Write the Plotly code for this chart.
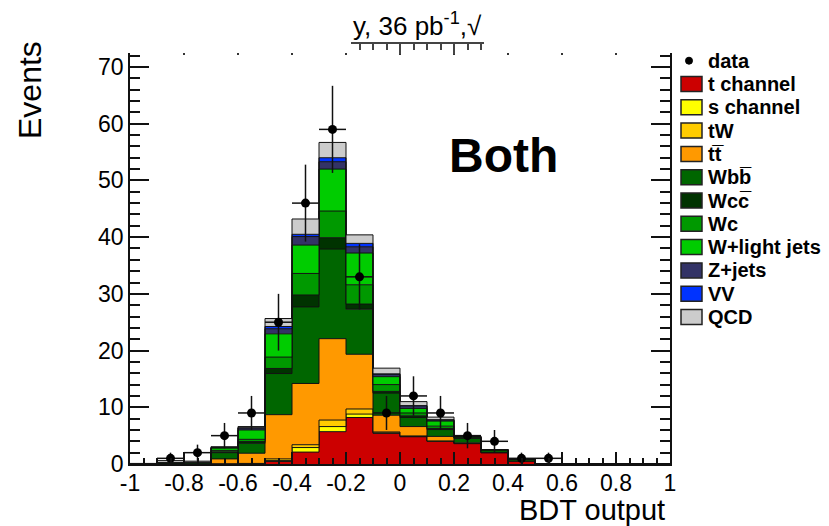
import numpy as np
import plotly.graph_objects as go

# ---------------- data ----------------
bin_edges = [round(-1 + 0.1 * i, 1) for i in range(21)]
bin_centers = [round(-0.95 + 0.1 * i, 2) for i in range(20)]

data_counts = [0, 1, 2, 5, 9, 25, 46, 59, 33, 9, 12, 9, 5, 4, 1, 1, 0, 0, 0, 0]

t_channel = [0, 0, 0, 0.05, 0.05, 0.45, 2.1, 5.7, 8.2, 5.4, 4.8, 4.0, 3.6, 2.0, 0.5, 0, 0, 0, 0, 0]
s_channel = [0, 0, 0, 0, 0, 0.15, 0.8, 0.9, 0.6, 0.1, 0.05, 0.02, 0, 0, 0, 0, 0, 0, 0, 0]
tW = [0, 0, 0, 0, 0.05, 0.3, 0.5, 1.15, 0.9, 0.15, 0.1, 0.05, 0.03, 0, 0, 0, 0, 0, 0, 0]
ttbar = [0, 0, 0, 0.85, 1.8, 7.8, 10.8, 14.35, 9.65, 2.95, 1.65, 0.8, 0.1, 0.05, 0.02, 0, 0, 0, 0, 0]
Wbb = [0, 0.1, 0.1, 1.1, 1.75, 7.25, 13.5, 15.8, 7.95, 3.9, 1.6, 1.2, 0.8, 0.4, 0.3, 0, 0, 0, 0, 0]
Wcc = [0, 0, 0, 0.15, 0.3, 0.9, 2.1, 2.0, 0.9, 0.3, 0.3, 0.2, 0.1, 0.1, 0.1, 0, 0, 0, 0, 0]
Wc = [0, 0, 0.05, 0.25, 0.4, 2.0, 3.8, 4.7, 3.4, 1.2, 0.5, 0.4, 0, 0, 0, 0, 0, 0, 0, 0]
Wlight = [0, 0.15, 0.15, 0.4, 1.65, 4.1, 5.0, 7.4, 5.6, 1.4, 0.8, 0.9, 0.2, 0, 0, 0, 0, 0, 0, 0]
Zjets = [0, 0, 0, 0.1, 0.35, 0.9, 1.5, 1.3, 1.1, 0.4, 0.4, 0.2, 0, 0, 0, 0, 0, 0, 0, 0]
VV = [0, 0, 0, 0, 0.05, 0.4, 0.4, 0.7, 0.6, 0.1, 0.1, 0.05, 0, 0, 0, 0, 0, 0, 0, 0]
QCD = [0.1, 0.35, 0.2, 0.15, 0.2, 1.4, 2.7, 2.7, 1.5, 1.0, 0.7, 0.45, 0, 0, 0, 0, 0, 0, 0, 0]

components = [t_channel, s_channel, tW, ttbar, Wbb, Wcc, Wc, Wlight, Zjets, VV, QCD]
comp_names = ["t channel", "s channel", "tW", "tt\u0305", "Wbb\u0305", "Wcc\u0305", "Wc",
              "W+light jets", "Z+jets", "VV", "QCD"]
comp_colors = ["#CC0000", "#FFFF00", "#FFCC00", "#FF9900", "#006600", "#003300", "#009900",
               "#00CC00", "#333366", "#0033FF", "#CCCCCC"]

x_ticks = [-1, -0.8, -0.6, -0.4, -0.2, 0, 0.2, 0.4, 0.6, 0.8, 1]
x_ticktext = ["-1", "-0.8", "-0.6", "-0.4", "-0.2", "0", "0.2", "0.4", "0.6", "0.8", "1"]
y_ticks = [0, 10, 20, 30, 40, 50, 60, 70]

# ---------------- geometry helpers (pixels -> paper) ----------------
W, H = 829, 526
L, R, T, B = 130, 159, 43, 62
PW, PH = W - L - R, H - T - B


def px(x):
    return (x - L) / PW


def py(y):
    return (H - B - y) / PH


FONT = "Liberation Sans, Arial, Helvetica, sans-serif"

fig = go.Figure()

# stacked histograms as filled step curves
cum = np.zeros(20)
for i, (vals, name, col) in enumerate(zip(components, comp_names, comp_colors)):
    cum = cum + np.array(vals)
    yv = list(cum) + [cum[-1]]
    fig.add_trace(go.Scatter(
        x=bin_edges, y=yv, mode="lines", line=dict(shape="hv", color="#111111", width=1),
        fill="tozeroy" if i == 0 else "tonexty", fillcolor=col, name=name,
        showlegend=False, hoverinfo="skip"))

# data points
dx = [c for c, n in zip(bin_centers, data_counts) if n > 0]
dy = [n for n in data_counts if n > 0]
fig.add_trace(go.Scatter(
    x=dx, y=dy, mode="markers", marker=dict(color="black", size=9),
    error_y=dict(type="data", array=list(np.sqrt(dy)), width=0, thickness=1.5, color="#111111"),
    error_x=dict(type="constant", value=0.05, width=0, thickness=1.5, color="#111111"),
    name="data", showlegend=False))

# dummy traces for the extra tick axes
fig.add_trace(go.Scatter(x=[None], y=[None], xaxis="x2", yaxis="y", showlegend=False, hoverinfo="skip"))
fig.add_trace(go.Scatter(x=[None], y=[None], xaxis="x3", yaxis="y", showlegend=False, hoverinfo="skip"))

ytop = (H - B - 53) / PH
ymax = 70 * (H - B - 53) / (H - B - 67)

fig.update_layout(
    width=W, height=H, margin=dict(l=L, r=R, t=T, b=B, autoexpand=False),
    paper_bgcolor="white", plot_bgcolor="rgba(0,0,0,0)", showlegend=False,
    font=dict(family=FONT, color="black"),
    xaxis=dict(range=[-1, 1], domain=[0, 1], tickvals=x_ticks, ticktext=x_ticktext,
               ticks="inside", ticklen=12, tickwidth=1.5, tickcolor="#111",
               minor=dict(dtick=0.05, tick0=0, ticks="inside", ticklen=6, tickwidth=1.5, tickcolor="#111"),
               showline=True, linecolor="#111", linewidth=2, showgrid=False, zeroline=False,
               tickfont=dict(size=23, family=FONT), anchor="y", ticklabelstandoff=-3),
    xaxis2=dict(range=[-1 + (351 - L) / 270, -1 + (484 - L) / 270],
                domain=[px(351), px(484)], anchor="free", position=1, side="top",
                tick0=0, dtick=0.2, ticks="inside", ticklen=10, tickwidth=1.5, tickcolor="#444",
                minor=dict(dtick=0.05, ticks="inside", ticklen=6, tickwidth=1.5, tickcolor="#444"),
                showticklabels=False, showline=True, linecolor="#444", linewidth=1.5,
                showgrid=False, zeroline=False),
    xaxis3=dict(range=[-1, 1], overlaying="x", side="top", anchor="y",
                tick0=0, dtick=0.2, ticks="inside", ticklen=2, tickwidth=2, tickcolor="#333",
                showticklabels=False, showline=False, showgrid=False, zeroline=False),
    yaxis=dict(range=[0, ymax], domain=[0, ytop], tickvals=y_ticks,
               ticks="inside", ticklen=19, tickwidth=1.5, tickcolor="#111",
               minor=dict(dtick=2, ticks="inside", ticklen=10, tickwidth=1.5, tickcolor="#111"),
               showline=True, linecolor="#111", linewidth=1.5, mirror="ticks",
               showgrid=False, zeroline=False, tickfont=dict(size=23, family=FONT),
               ticklabelstandoff=0),
)

annotations = [
    dict(x=px(667), y=py(510), text="BDT output", xanchor="right", yanchor="middle",
         font=dict(size=29, family=FONT)),
    dict(x=px(30), y=py(90), text="Events", textangle=-90, xanchor="center", yanchor="middle",
         font=dict(size=32, family=FONT)),
    dict(x=px(417), y=py(24), text="y, 36 pb<sup>-1</sup>,\u221a", xanchor="center", yanchor="middle",
         font=dict(size=26, family=FONT)),
    dict(x=px(504), y=py(155), text="<b>Both</b>", xanchor="center", yanchor="middle",
         font=dict(size=48, family=FONT)),
]

shapes = []
# manual legend
row_y = [60.7 + 23.3 * k for k in range(12)]
annotations.append(dict(x=px(706), y=py(row_y[0]), text="<b>data</b>", xanchor="left", yanchor="middle",
                        font=dict(size=20, family=FONT)))
shapes.append(dict(type="circle", xref="paper", yref="paper",
                   x0=px(689 - 3.5), x1=px(689 + 3.5), y0=py(row_y[0] + 3.5), y1=py(row_y[0] - 3.5),
                   fillcolor="black", line=dict(color="black", width=1)))
for k, (name, col) in enumerate(zip(comp_names, comp_colors)):
    yk = row_y[k + 1]
    shapes.append(dict(type="rect", xref="paper", yref="paper",
                       x0=px(681), x1=px(702), y0=py(yk + 7.5), y1=py(yk - 7.5),
                       fillcolor=col, line=dict(color="#222", width=1.5)))
    annotations.append(dict(x=px(706), y=py(yk), text="<b>" + name + "</b>",
                            xanchor="left", yanchor="middle", font=dict(size=20, family=FONT)))

for a in annotations:
    a.update(xref="paper", yref="paper", showarrow=False)

fig.update_layout(annotations=annotations, shapes=shapes)

fig.write_html("out.html", config={"displayModeBar": False},
               post_script="document.body.style.margin='0';document.body.style.overflow='hidden';")
